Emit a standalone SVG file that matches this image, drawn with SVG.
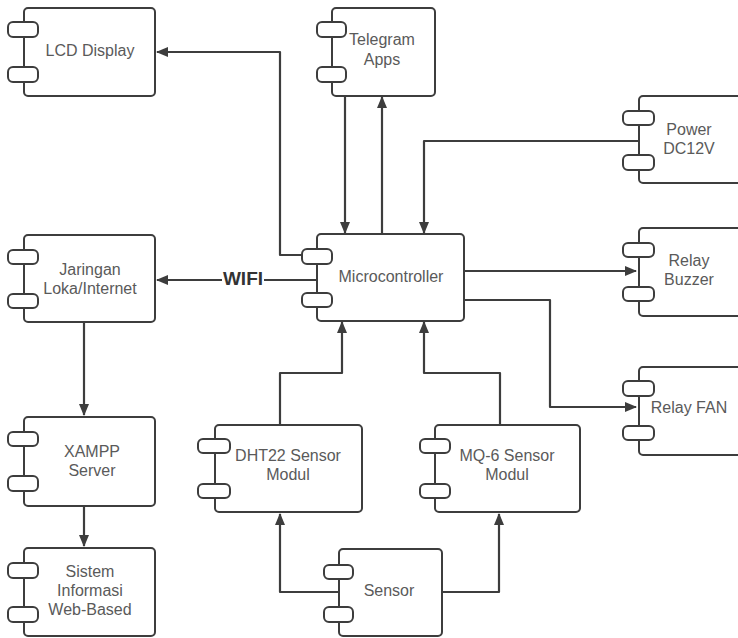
<svg xmlns="http://www.w3.org/2000/svg" width="738" height="638" viewBox="0 0 738 638">
<style>
.box{fill:#fff;stroke:#3d3d3d;stroke-width:2}
.tab{fill:#fff;stroke:#3d3d3d;stroke-width:2}
.lbl{font-family:"Liberation Sans",Arial,sans-serif;font-size:16px;fill:#5a5a5a;text-anchor:middle}
.wifi{font-family:"Liberation Sans",Arial,sans-serif;font-size:19px;font-weight:bold;fill:#333;text-anchor:middle}
.ln{fill:none;stroke:#3d3d3d;stroke-width:2.2;stroke-linejoin:round}
.ar{marker-end:url(#ah)}
</style>
<defs>
<marker id="ah" markerUnits="userSpaceOnUse" markerWidth="12" markerHeight="10" refX="11" refY="5" orient="auto">
<path d="M0,0 L12,5 L0,10 z" fill="#3d3d3d"/>
</marker>
</defs>
<rect width="738" height="638" fill="#fff"/>
<g id="connectors">
<path class="ln ar" d="M304,255 H280 V52 H157"/>
<path class="ln" d="M317,280 H264"/>
<path class="ln ar" d="M222,280 H157"/>
<path class="ln ar" d="M345,96 V233"/>
<path class="ln ar" d="M382,234 V97"/>
<path class="ln ar" d="M639,141 H424 V233"/>
<path class="ln ar" d="M464,271 H636"/>
<path class="ln ar" d="M464,300 H550 V407 H636"/>
<path class="ln ar" d="M84,322 V415"/>
<path class="ln ar" d="M84,506 V546"/>
<path class="ln ar" d="M280,425 V373 H342 V322"/>
<path class="ln ar" d="M500,425 V373 H424 V322"/>
<path class="ln ar" d="M339,592 H280 V514"/>
<path class="ln ar" d="M442,592 H499 V514"/>
</g>
<text class="wifi" x="243" y="285">WIFI</text>
<g id="lcd">
<rect class="box" x="24" y="8" width="131" height="88" rx="4"/>
<rect class="tab" x="8" y="22" width="30" height="15" rx="5"/>
<rect class="tab" x="8" y="67" width="30" height="15" rx="5"/>
<text class="lbl" x="90" y="56">LCD Display</text>
</g>
<g id="telegram">
<rect class="box" x="332" y="8" width="103" height="88" rx="4"/>
<rect class="tab" x="317" y="22" width="29" height="15" rx="5"/>
<rect class="tab" x="317" y="67" width="29" height="15" rx="5"/>
<text class="lbl" x="382" y="45">Telegram</text>
<text class="lbl" x="382" y="65">Apps</text>
</g>
<g id="power">
<rect class="box" x="639" y="96" width="110" height="87" rx="4"/>
<rect class="tab" x="623" y="111" width="31" height="14" rx="5"/>
<rect class="tab" x="623" y="155" width="31" height="15" rx="5"/>
<text class="lbl" x="689" y="135">Power</text>
<text class="lbl" x="689" y="154">DC12V</text>
</g>
<g id="jaringan">
<rect class="box" x="24" y="235" width="131" height="87" rx="4"/>
<rect class="tab" x="8" y="250" width="30" height="14" rx="5"/>
<rect class="tab" x="8" y="294" width="30" height="14" rx="5"/>
<text class="lbl" x="90" y="275">Jaringan</text>
<text class="lbl" x="90" y="294">Loka/Internet</text>
</g>
<g id="microcontroller">
<rect class="box" x="317" y="234" width="147" height="87" rx="4"/>
<rect class="tab" x="302" y="249" width="30" height="15" rx="5"/>
<rect class="tab" x="302" y="293" width="30" height="14" rx="5"/>
<text class="lbl" x="391" y="282">Microcontroller</text>
</g>
<g id="relay-buzzer">
<rect class="box" x="639" y="228" width="110" height="88" rx="4"/>
<rect class="tab" x="623" y="243" width="31" height="14" rx="5"/>
<rect class="tab" x="623" y="287" width="31" height="14" rx="5"/>
<text class="lbl" x="689" y="266">Relay</text>
<text class="lbl" x="689" y="285">Buzzer</text>
</g>
<g id="relay-fan">
<rect class="box" x="639" y="367" width="110" height="88" rx="4"/>
<rect class="tab" x="623" y="381" width="31" height="15" rx="5"/>
<rect class="tab" x="623" y="426" width="31" height="14" rx="5"/>
<text class="lbl" x="689" y="413">Relay FAN</text>
</g>
<g id="xampp">
<rect class="box" x="24" y="417" width="131" height="89" rx="4"/>
<rect class="tab" x="8" y="432" width="30" height="14" rx="5"/>
<rect class="tab" x="8" y="476" width="30" height="15" rx="5"/>
<text class="lbl" x="92" y="457">XAMPP</text>
<text class="lbl" x="92" y="476">Server</text>
</g>
<g id="sistem">
<rect class="box" x="24" y="548" width="131" height="88" rx="4"/>
<rect class="tab" x="8" y="563" width="30" height="15" rx="5"/>
<rect class="tab" x="8" y="607" width="30" height="15" rx="5"/>
<text class="lbl" x="90" y="577">Sistem</text>
<text class="lbl" x="90" y="596">Informasi</text>
<text class="lbl" x="90" y="615">Web-Based</text>
</g>
<g id="dht22">
<rect class="box" x="215" y="425" width="147" height="87" rx="4"/>
<rect class="tab" x="198" y="439" width="32" height="14" rx="5"/>
<rect class="tab" x="198" y="484" width="32" height="14" rx="5"/>
<text class="lbl" x="288" y="461">DHT22 Sensor</text>
<text class="lbl" x="288" y="480">Modul</text>
</g>
<g id="mq6">
<rect class="box" x="435" y="425" width="145" height="87" rx="4"/>
<rect class="tab" x="420" y="439" width="30" height="14" rx="5"/>
<rect class="tab" x="420" y="484" width="30" height="14" rx="5"/>
<text class="lbl" x="507" y="461">MQ-6 Sensor</text>
<text class="lbl" x="507" y="480">Modul</text>
</g>
<g id="sensor">
<rect class="box" x="339" y="549" width="103" height="87" rx="4"/>
<rect class="tab" x="324" y="565" width="29" height="14" rx="5"/>
<rect class="tab" x="324" y="607" width="29" height="15" rx="5"/>
<text class="lbl" x="389" y="596">Sensor</text>
</g>
</svg>
